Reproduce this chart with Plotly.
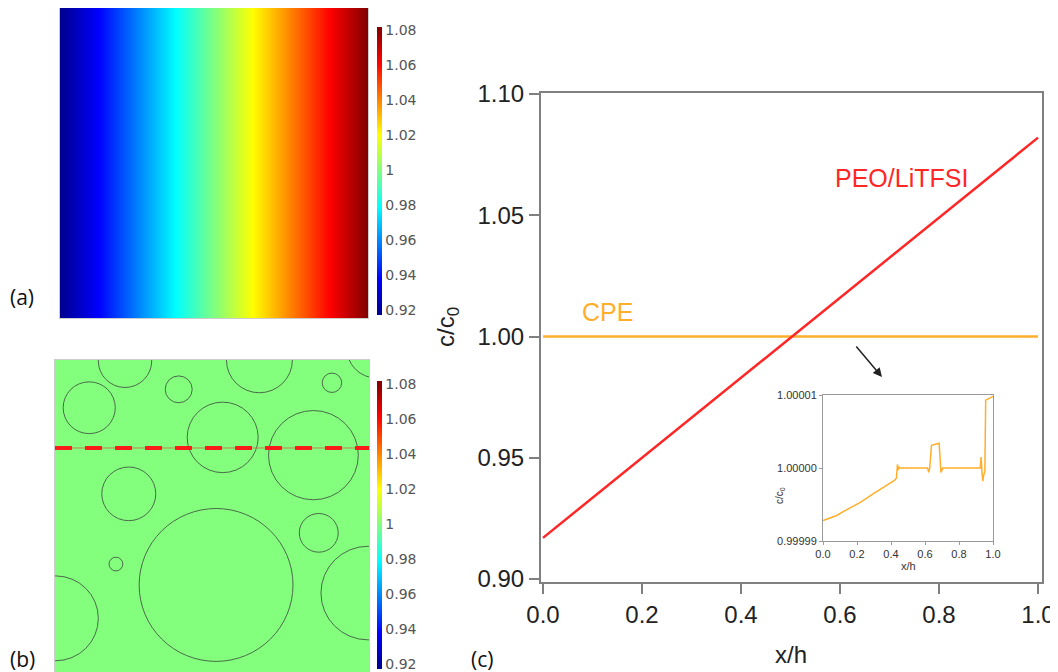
import plotly.graph_objects as go

# the page body has an 8px margin, so the figure is placed at (8, 8)
OFF = 8
W, H = 1058 - OFF, 672 - OFF

# ---------------- data ----------------
# PEO/LiTFSI concentration profile (straight line)
peo_x = [0.0, 1.0]
peo_y = [0.917, 1.082]

# CPE concentration profile (seen in inset, ~1 everywhere)
cpe_x = [0.0, 0.08, 0.14, 0.22, 0.29, 0.37, 0.42, 0.432, 0.438, 0.442, 0.446, 0.45,
         0.615, 0.622, 0.628, 0.638, 0.665, 0.683, 0.694, 0.70, 0.705,
         0.925, 0.93, 0.935, 0.94, 0.945, 0.952, 0.957, 0.98, 1.0]
cpe_y = [0.9999928, 0.9999935, 0.9999943, 0.9999953, 0.9999964, 0.9999975, 0.9999983,
         0.9999986, 1.0000005, 0.9999997, 1.0000002, 1.0,
         1.0, 0.9999994, 1.0, 1.0000031, 1.0000033, 1.0000034, 0.9999994, 0.9999998, 1.0,
         1.0, 1.0000015, 0.9999995, 0.9999982, 0.999999, 0.9999995, 1.0000093, 1.0000096,
         1.0000098]

# colorbar ticks
cb_vals = [0.92, 0.94, 0.96, 0.98, 1.0, 1.02, 1.04, 1.06, 1.08]
cb_text = ["0.92", "0.94", "0.96", "0.98", "1", "1.02", "1.04", "1.06", "1.08"]

# main axis ticks
main_yticks = [0.90, 0.95, 1.00, 1.05, 1.10]
main_xticks = [0.0, 0.2, 0.4, 0.6, 0.8, 1.0]
inset_yticks = [0.99999, 1.0, 1.00001]
inset_yticktext = ["0.99999", "1.00000", "1.00001"]

# particles in panel (b): centre x, centre y, radius (panel units 0..1)
circ_x = [0.223, 0.109, 0.394, 0.651, 0.882, 1.025, 0.534, 0.823, 0.235, 0.513, 0.840, 0.194, 0.002, 0.997]
circ_y = [0.997, 0.847, 0.906, 1.000, 0.927, 1.038, 0.752, 0.695, 0.571, 0.279, 0.446, 0.346, 0.172, 0.253]
circ_r = [0.085, 0.083, 0.043, 0.105, 0.031, 0.096, 0.113, 0.143, 0.086, 0.245, 0.062, 0.022, 0.136, 0.150]
cut_y = 0.718  # position of the dashed cut line

# ---------------- helpers (window pixels -> paper fraction) ----------------
def px(x):
    return (x - OFF) / W

def py(y):
    return 1 - (y - OFF) / H

jet = [[0.0, "#00008F"], [0.125, "#0000FF"], [0.375, "#00FFFF"], [0.5, "#80FF80"],
       [0.625, "#FFFF00"], [0.875, "#FF0000"], [1.0, "#800000"]]
zmin, zmax = min(peo_y), max(peo_y)

RED = "#FF2626"
ORANGE = "#FFAE2B"
GRAY = "#808080"

fig = go.Figure()

cb_common = dict(thickness=5, outlinewidth=0, xpad=0, ypad=0, lenmode="fraction",
                 xanchor="left", yanchor="top", tickvals=cb_vals, ticktext=cb_text,
                 ticks="", tickfont=dict(family="DejaVu Sans", size=14, color="#555555"))

# panel (a) : PEO/LiTFSI field
fig.add_trace(go.Heatmap(x=peo_x, y=[0, 1], z=[peo_y, peo_y], zsmooth="best",
                         colorscale=jet, zmin=zmin, zmax=zmax, xaxis="x", yaxis="y",
                         hoverinfo="skip",
                         colorbar=dict(x=px(377), y=py(27), len=288 / H, **cb_common)))
# panel (b) : CPE field
fig.add_trace(go.Heatmap(x=cpe_x, y=[0, 1], z=[cpe_y, cpe_y], zsmooth="best",
                         colorscale=jet, zmin=zmin, zmax=zmax, xaxis="x2", yaxis="y2",
                         hoverinfo="skip",
                         colorbar=dict(x=px(377), y=py(381), len=288 / H, **cb_common)))

# panel (c) : profiles
fig.add_trace(go.Scatter(x=cpe_x, y=cpe_y, mode="lines", line=dict(color=ORANGE, width=2.5),
                         xaxis="x3", yaxis="y3", showlegend=False))
fig.add_trace(go.Scatter(x=peo_x, y=peo_y, mode="lines", line=dict(color=RED, width=2.5),
                         xaxis="x3", yaxis="y3", showlegend=False))
# inset
fig.add_trace(go.Scatter(x=cpe_x, y=cpe_y, mode="lines", line=dict(color=ORANGE, width=1.5),
                         xaxis="x4", yaxis="y4", showlegend=False))

hidden = dict(showticklabels=False, ticks="", showgrid=False, zeroline=False,
              showline=True, linecolor="#CCCCCC", linewidth=1, mirror=True)

main_ax = dict(showgrid=False, zeroline=False, showline=True, linecolor=GRAY, linewidth=2,
               mirror=True, ticks="outside", tickcolor=GRAY, tickwidth=2, ticklen=10,
               tickfont=dict(family="Liberation Sans", size=24, color="#222222"))
inset_ax = dict(showgrid=False, zeroline=False, showline=True, linecolor="#9A9A9A", linewidth=1,
                mirror=True, ticks="outside", tickcolor="#9A9A9A", tickwidth=1, ticklen=3,
                tickfont=dict(family="Liberation Sans", size=11, color="#333333"))

fig.update_layout(
    width=W, height=H, margin=dict(l=0, r=0, t=0, b=0, autoexpand=False),
    paper_bgcolor="white", plot_bgcolor="white", showlegend=False,
    xaxis=dict(domain=[px(60), px(368)], range=[0, 1], anchor="y", **hidden),
    yaxis=dict(domain=[py(318), py(8)], range=[0, 1], anchor="x", **hidden),
    xaxis2=dict(domain=[px(55), px(369)], range=[0, 1], anchor="y2", **hidden),
    yaxis2=dict(domain=[0, py(360)], range=[0, 1], anchor="x2", **hidden),
    xaxis3=dict(domain=[px(541), px(1042)], range=[-0.004, 1.008], anchor="y3",
                tickvals=main_xticks, tickformat=".1f", **main_ax),
    yaxis3=dict(domain=[py(582), py(93)], range=[0.8988, 1.1004], anchor="x3",
                tickvals=main_yticks, tickformat=".2f", **main_ax),
    xaxis4=dict(domain=[px(823), px(993)], range=[0, 1], anchor="y4",
                tickvals=main_xticks, tickformat=".1f", **inset_ax),
    yaxis4=dict(domain=[py(541), py(395)], range=[0.99999, 1.00001], anchor="x4",
                tickvals=inset_yticks, ticktext=inset_yticktext, **inset_ax),
)

# particles and cut line in panel (b)
shapes = []
for cx, cy, r in zip(circ_x, circ_y, circ_r):
    shapes.append(dict(type="circle", xref="x2", yref="y2", x0=cx - r, x1=cx + r,
                       y0=cy - r, y1=cy + r, line=dict(color="#4A6A4A", width=1)))
shapes.append(dict(type="line", xref="x2", yref="y2", x0=0, x1=1, y0=cut_y, y1=cut_y,
                   line=dict(color="#C08050", width=1)))
shapes.append(dict(type="line", xref="x2", yref="y2", x0=0, x1=1, y0=cut_y, y1=cut_y,
                   line=dict(color="#FF1A1A", width=4, dash="17px,13px")))
fig.update_layout(shapes=shapes)


def label(x, y, text, font, angle=0):
    return dict(x=px(x), y=py(y), xref="paper", yref="paper", text=text, showarrow=False,
                xanchor="center", yanchor="middle", textangle=angle, font=font)


ann = []
lab_font = dict(family="Open Sans", size=21, color="#111111")
big = dict(family="Liberation Sans", size=24, color="#222222")
small = dict(family="Liberation Sans", size=11, color="#333333")
ann.append(label(22, 297, "(a)", lab_font))
ann.append(label(22, 659, "(b)", lab_font))
ann.append(label(482, 659, "(c)", lab_font))
ann.append(label(791, 654, "x/h", big))
ann.append(label(447, 327, "c/c<sub>0</sub>", big, -90))
ann.append(label(901, 178, "PEO/LiTFSI", dict(family="Liberation Sans", size=25, color=RED)))
ann.append(label(607, 312, "CPE", dict(family="Liberation Sans", size=25, color=ORANGE)))
ann.append(label(908, 566, "x/h", small))
ann.append(label(780, 496, "c/c<sub>0</sub>", dict(family="Liberation Sans", size=10, color="#333333"), -90))
ann.append(dict(x=px(882), y=py(377), xref="paper", yref="paper", text="", showarrow=True,
                axref="pixel", ayref="pixel", ax=-27, ay=-32, arrowhead=2, arrowsize=1.2,
                arrowwidth=1.5, arrowcolor="#222222"))
fig.update_layout(annotations=ann)

fig.write_html("out.html")
